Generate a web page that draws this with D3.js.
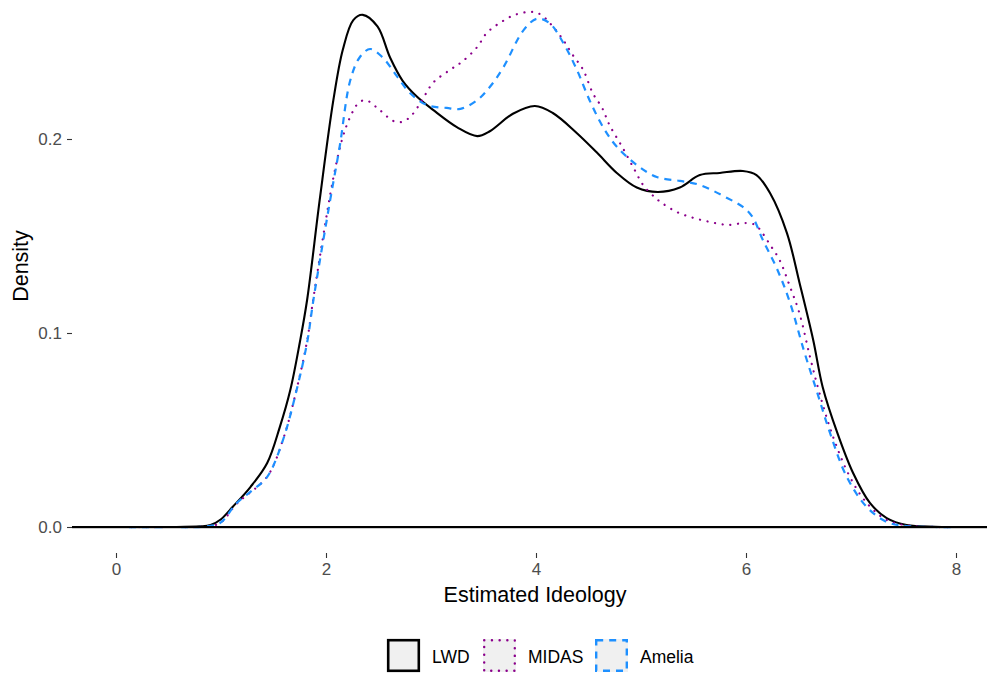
<!DOCTYPE html>
<html><head><meta charset="utf-8">
<script src="https://cdn.jsdelivr.net/npm/d3@7"></script>
<style>body{margin:0;background:#fff;} svg{display:block;font-family:"Liberation Sans",Arial,sans-serif;}</style>
</head><body><svg id="c" width="987" height="673"></svg>
<script>
const seriesNames = ["LWD", "MIDAS", "Amelia"];
const seriesColors = ["#000000", "#8B008B", "#1E90FF"];
const xTicks = [0, 2, 4, 6, 8];
const yTicks = [0.0, 0.1, 0.2];
const yTickLabels = ["0.0", "0.1", "0.2"];

const lwdX = [0,0.5,0.8,0.9,1.0,1.11,1.28,1.44,1.56,1.66,1.75,1.82,1.94,2.07,2.16,2.26,2.35,2.49,2.61,2.73,2.87,3.02,3.25,3.44,3.56,3.78,3.99,4.16,4.39,4.58,4.77,4.96,5.16,5.37,5.56,5.75,5.97,6.1,6.23,6.39,6.51,6.64,6.73,6.87,7.02,7.18,7.34,7.53,7.8,8];
const lwdY = [0,0,0.0003,0.001,0.004,0.0103,0.0206,0.033,0.0515,0.0706,0.095,0.117,0.1686,0.220,0.246,0.2613,0.264,0.258,0.242,0.230,0.2216,0.215,0.206,0.2015,0.2040,0.213,0.217,0.2134,0.203,0.193,0.1825,0.175,0.1727,0.175,0.1814,0.1825,0.1835,0.1814,0.172,0.1515,0.1258,0.0964,0.0722,0.0485,0.0278,0.0124,0.0046,0.001,0.0001,0];

const midasX = [0,0.5,0.85,0.99,1.15,1.44,1.59,1.72,1.82,1.88,2.07,2.16,2.23,2.31,2.38,2.51,2.64,2.72,2.8,2.9,3.02,3.18,3.3,3.44,3.53,3.66,3.8,3.96,4.05,4.16,4.26,4.35,4.45,4.54,4.63,4.7,4.82,4.94,5.02,5.13,5.2,5.34,5.5,5.66,5.83,5.99,6.09,6.15,6.23,6.32,6.42,6.51,6.61,6.7,6.83,6.99,7.15,7.34,7.55,7.8,8];
const midasY = [0,0,0.0003,0.002,0.012,0.026,0.045,0.071,0.096,0.118,0.180,0.201,0.2113,0.2186,0.220,0.215,0.2093,0.2088,0.2113,0.2186,0.229,0.2356,0.240,0.2474,0.2546,0.260,0.264,0.2655,0.264,0.258,0.251,0.2433,0.2356,0.2237,0.216,0.2072,0.196,0.184,0.1763,0.170,0.167,0.1624,0.1593,0.1572,0.1557,0.1567,0.1557,0.152,0.1454,0.1376,0.1237,0.110,0.0876,0.069,0.0464,0.0258,0.0124,0.0036,0.0007,0,0];

const ameliaX = [0,0.5,0.85,0.99,1.15,1.3,1.44,1.59,1.72,1.82,1.88,2.04,2.13,2.23,2.32,2.42,2.54,2.68,2.8,2.96,3.15,3.28,3.44,3.56,3.69,3.88,4.01,4.13,4.26,4.39,4.51,4.64,4.77,4.96,5.15,5.37,5.56,5.82,5.97,6.06,6.16,6.3,6.42,6.55,6.68,6.8,6.96,7.15,7.34,7.53,7.8,8];
const ameliaY = [0,0,0.0003,0.002,0.0124,0.019,0.0258,0.0448,0.0706,0.095,0.117,0.1686,0.196,0.230,0.242,0.2464,0.242,0.232,0.2237,0.2175,0.216,0.2155,0.220,0.2268,0.237,0.256,0.262,0.2597,0.2495,0.2356,0.220,0.206,0.196,0.1866,0.1804,0.1784,0.1763,0.1696,0.165,0.160,0.148,0.1325,0.1155,0.0912,0.069,0.0485,0.0258,0.0103,0.0026,0.0005,0,0];

const svg = d3.select("#c");
const panel = {left: 72, right: 987, top: 5, bottom: 553};
const x = d3.scaleLinear().domain([0, 8]).range([116, 956]);
const y = d3.scaleLinear().domain([0, 0.2]).range([527, 139]);

const line = d3.line().x(d => x(d[0])).y(d => y(Math.max(0, d[1]))).curve(d3.curveCatmullRom.alpha(0.5));
const data = [
  d3.zip(lwdX, lwdY),
  d3.zip(midasX, midasY),
  d3.zip(ameliaX, ameliaY)
];
const styles = [
  {w: 2.1, dash: null, cap: "butt"},
  {w: 2.2, dash: "0.1 7.6", cap: "round"},
  {w: 2.2, dash: "7 6", cap: "butt"}
];

// axes
const xAxis = d3.axisBottom(x).tickValues(xTicks).tickFormat(d3.format("d")).tickSize(5).tickPadding(5);
const gx = svg.append("g").attr("transform", `translate(0,${panel.bottom})`).call(xAxis);
const yAxis = d3.axisLeft(y).tickValues(yTicks).tickFormat((d, i) => yTickLabels[i]).tickSize(5).tickPadding(5);
const gy = svg.append("g").attr("transform", `translate(${panel.left},0)`).call(yAxis);
[gx, gy].forEach(g => {
  g.select(".domain").remove();
  g.selectAll(".tick line").attr("stroke", "#333333").attr("stroke-width", 1.1);
  g.selectAll(".tick text").attr("fill", "#4d4d4d").style("font-size", "17px").style("font-family", "Liberation Sans, Arial, sans-serif");
});

// baseline
svg.append("line").attr("x1", panel.left).attr("x2", panel.right).attr("y1", y(0) + 1.5).attr("y2", y(0) + 1.5)
  .attr("stroke", "#cccccc").attr("stroke-width", 1);

// curves
data.forEach((d, i) => {
  svg.append("path").datum(d).attr("d", line).attr("fill", "none")
    .attr("stroke", seriesColors[i]).attr("stroke-width", styles[i].w)
    .attr("stroke-dasharray", styles[i].dash).attr("stroke-linecap", styles[i].cap)
    .attr("stroke-linejoin", "round");
});

svg.append("line").attr("x1", panel.left).attr("x2", panel.right).attr("y1", y(0)).attr("y2", y(0))
  .attr("stroke", "#000").attr("stroke-width", 2.2);

// titles
svg.append("text").attr("x", 535).attr("y", 602).attr("text-anchor", "middle")
  .style("font-size", "21.5px").attr("fill", "#000").text("Estimated Ideology");
svg.append("text").attr("transform", "translate(28,266) rotate(-90)").attr("text-anchor", "middle")
  .style("font-size", "21.5px").attr("fill", "#000").text("Density");

// legend
const legX = [387, 483, 595];
const leg = svg.append("g");
seriesNames.forEach((n, i) => {
  const g = leg.append("g").attr("transform", `translate(${legX[i]},639)`);
  g.append("rect").attr("x", 0).attr("y", 0).attr("width", 33).attr("height", 33).attr("fill", "#f0f0f0");
  g.append("rect").attr("x", 1.2).attr("y", 1.2).attr("width", 30.6).attr("height", 30.6).attr("fill", "none")
    .attr("stroke", seriesColors[i]).attr("stroke-width", i === 0 ? 2.6 : 2.4)
    .attr("stroke-dasharray", styles[i].dash).attr("stroke-linecap", styles[i].cap);
  g.append("text").attr("x", 45).attr("y", 24).style("font-size", "17.5px").attr("fill", "#000").text(n);
});
</script></body></html>
